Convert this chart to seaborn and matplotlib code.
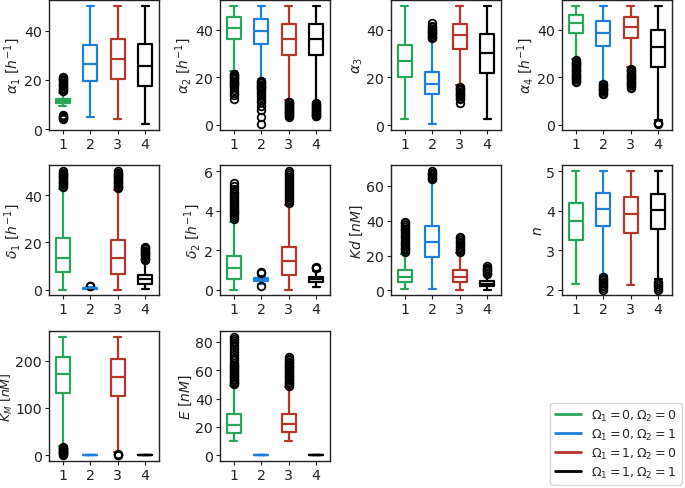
import numpy as np
import pandas as pd
import matplotlib
matplotlib.use("Agg")
import matplotlib.pyplot as plt
import seaborn as sns
from matplotlib.lines import Line2D
from matplotlib.ticker import MultipleLocator

# ---------------- data ----------------
groups = ["1", "2", "3", "4"]
colors = ["#2ba55c", "#1f7fdb", "#b5372c", "#000000"]
legend_labels = [r"$\Omega_1 = 0, \Omega_2 = 0$", r"$\Omega_1 = 0, \Omega_2 = 1$",
                 r"$\Omega_1 = 1, \Omega_2 = 0$", r"$\Omega_1 = 1, \Omega_2 = 1$"]

# five-number summaries per group: [whisker_low, q1, median, q3, whisker_high]
alpha1_box = [[9.5, 10.4, 11.25, 12.3, 14.8], [4.7, 19.6, 26.4, 34.3, 50],
              [4.0, 20.2, 28.4, 36.7, 50], [2.0, 17.6, 25.7, 34.4, 50]]
alpha1_out = [[4.2, 4.6, 5.0, 5.4, 5.8, 15.3, 15.8, 16.3, 16.8, 17.3, 17.8, 18.3, 18.8,
               19.3, 19.8, 20.3, 20.8, 21.2], [], [], []]

alpha2_box = [[22.6, 35.9, 40.7, 45.2, 50], [19.2, 34.0, 39.6, 44.3, 50],
              [10.3, 29.4, 36.1, 42.4, 50], [9.6, 29.1, 36.2, 42.4, 50]]
alpha2_out = [[21.5, 21.0, 20.5, 20.0, 19.5, 19.0, 18.5, 18.0, 17.5, 17.0, 16.5, 15.8, 14.5,
               13.4, 12.3, 10.9],
              [18.3, 17.8, 17.3, 16.8, 16.3, 15.8, 15.3, 14.8, 14.3, 13.5, 12.5, 11.5, 10.5,
               9.5, 8.0, 6.2, 3.2, 0.2],
              [9.7, 9.3, 8.9, 8.5, 8.1, 7.7, 7.3, 6.9, 6.5, 6.1, 5.7, 5.3, 4.9, 4.5, 4.1, 3.7, 3.3],
              [9.0, 8.6, 8.2, 7.8, 7.4, 7.0, 6.6, 6.2, 5.8, 5.4, 5.0, 4.6, 4.2, 3.8, 3.4]]

alpha3_box = [[2.4, 20.2, 27.0, 33.7, 50], [0.4, 13.0, 17.4, 22.3, 35.8],
              [16.8, 32.1, 37.8, 42.6, 50], [2.5, 21.9, 30.4, 38.3, 50]]
alpha3_out = [[], [36.5, 37.0, 37.5, 38.0, 38.5, 39.0, 39.5, 40.0, 40.5, 41.0, 41.5, 42.7],
              [16.0, 15.5, 15.0, 14.5, 14.0, 13.5, 13.0, 12.5, 12.0, 11.5, 11.0, 9.3], []]

alpha4_box = [[27.8, 38.5, 42.8, 46.0, 50], [17.8, 33.0, 38.6, 43.5, 50],
              [24.2, 36.6, 41.3, 45.2, 50], [1.8, 24.4, 32.8, 40.0, 50]]
alpha4_out = [[27.0, 26.5, 26.0, 25.5, 25.0, 24.5, 24.0, 23.5, 23.0, 22.5, 22.0, 21.5, 21.0,
               20.5, 20.0, 19.5, 19.0, 18.5, 18.0],
              [17.0, 16.5, 16.0, 15.5, 15.0, 14.5, 14.0, 13.5, 13.0],
              [23.4, 23.0, 22.5, 22.0, 21.5, 21.0, 20.5, 20.0, 19.5, 19.0, 18.5, 18.0, 17.5,
               17.0, 16.5, 16.0, 15.3],
              [0.8, 0.5, 0.2]]

delta1_box = [[0.0, 7.5, 13.5, 21.7, 42.5], [0.05, 0.35, 0.55, 0.75, 1.2],
              [0.0, 6.6, 13.2, 21.0, 42.0], [0.3, 2.4, 4.4, 6.3, 11.8]]
delta1_out = [[43.4, 44.0, 44.5, 45.0, 45.5, 46.0, 46.5, 47.0, 47.5, 48.0, 48.5, 49.0, 49.5, 50.0],
              [1.5, 1.7],
              [43.0, 43.5, 44.0, 44.5, 45.0, 45.5, 46.0, 46.5, 47.0, 47.5, 48.0, 48.5, 49.0,
               49.5, 50.0],
              [12.5, 13.0, 13.5, 14.0, 14.5, 15.0, 15.5, 16.0, 16.5, 17.0, 17.5, 18.0]]

delta2_box = [[0.0, 0.55, 1.1, 1.72, 3.4], [0.3, 0.44, 0.5, 0.58, 0.7],
              [0.0, 0.73, 1.43, 2.18, 4.3], [0.15, 0.40, 0.52, 0.66, 0.95]]
delta2_out = [[3.55, 3.65, 3.75, 3.85, 3.95, 4.05, 4.15, 4.25, 4.35, 4.45, 4.55, 4.65, 4.75,
               4.85, 4.95, 5.1, 5.25, 5.4],
              [0.2, 0.82, 0.87],
              [4.4, 4.5, 4.6, 4.7, 4.8, 4.9, 5.0, 5.1, 5.2, 5.3, 5.4, 5.5, 5.6, 5.7, 5.8, 5.9, 5.98],
              [1.07, 1.1, 1.13]]

kd_box = [[0.6, 4.9, 7.7, 11.5, 21.0], [0.8, 19.1, 27.7, 36.8, 63.0],
          [0.5, 4.7, 7.9, 11.5, 21.3], [0.5, 2.6, 3.8, 5.3, 9.0]]
kd_out = [[21.8, 22.5, 23.5, 24.5, 25.5, 26.5, 27.5, 28.5, 29.5, 30.5, 31.5, 32.5, 33.5,
           34.5, 35.5, 36.5, 37.5, 38.5, 39.5],
          [63.8, 64.5, 65.2, 66.0, 66.7, 67.5, 68.3],
          [22.0, 23.0, 24.0, 25.0, 26.0, 27.0, 28.0, 29.0, 30.0, 30.6],
          [9.7, 10.3, 11.0, 11.7, 12.4, 13.0, 13.8]]

n_box = [[2.13, 3.27, 3.74, 4.19, 5.0], [2.36, 3.61, 4.05, 4.46, 5.0],
         [2.12, 3.44, 3.91, 4.36, 5.0], [2.26, 3.55, 4.02, 4.43, 5.0]]
n_out = [[], [2.32, 2.28, 2.24, 2.2, 2.16, 2.12, 2.08, 2.04, 2.0], [],
         [2.2, 2.15, 2.1, 2.05, 2.0]]

km_box = [[18.5, 131.4, 171.0, 207.0, 250.0], [0, 0, 0, 0, 0],
          [6.0, 124.0, 166.0, 203.5, 250.0], [0, 0, 0, 0, 0]]
km_out = [[17.0, 15.5, 14.0, 12.5, 11.0, 9.5, 8.0, 6.5, 5.0, 3.5, 2.0, 0.5], [],
          [2.5, 1.2, 0.3], []]

e_box = [[9.9, 15.5, 21.4, 29.1, 49.0], [0, 0, 0, 0, 0],
         [9.9, 16.0, 21.8, 29.1, 48.4], [0, 0, 0, 0, 0]]
e_out = [[50, 51, 52, 53, 54, 55, 56, 57, 58, 59, 60, 61, 62, 63, 64, 65, 67, 69, 71, 73,
          75, 77, 79, 80.5, 82, 83.6], [],
         [49.2, 50, 51, 52, 53, 54, 55, 56, 57, 58, 59, 60, 61, 62, 63, 64, 65, 66, 67, 68, 69.3],
         []]

ylabels = [r"$\alpha_1\ [h^{-1}]$", r"$\alpha_2\ [h^{-1}]$", r"$\alpha_3$",
           r"$\alpha_4\ [h^{-1}]$", r"$\delta_1\ [h^{-1}]$", r"$\delta_2\ [h^{-1}]$",
           r"$Kd\ [nM]$", r"$n$", r"$K_M\ [nM]$", r"$E\ [nM]$"]
ytick_steps = [20, 20, 20, 20, 20, 2, 20, 1, 100, 20]
boxes = [alpha1_box, alpha2_box, alpha3_box, alpha4_box, delta1_box, delta2_box,
         kd_box, n_box, km_box, e_box]
outliers = [alpha1_out, alpha2_out, alpha3_out, alpha4_out, delta1_out, delta2_out,
            kd_out, n_out, km_out, e_out]


def build_frame(box, out, m=200):
    """Raw samples whose quartiles / whisker ends / outliers equal the read values."""
    rows = []
    for g, b, o in zip(groups, box, out):
        lo, q1, med, q3, hi = b
        vals = list(o) + [lo] + [q1] * m + [med] * m + [q3] * m + [hi]
        rows += [(g, v) for v in vals]
    return pd.DataFrame(rows, columns=["group", "value"])


# ---------------- plotting ----------------
sns.set_style("ticks")
plt.rcParams.update({"font.family": ["DejaVu Sans"], "font.size": 10,
                     "axes.edgecolor": "#222222", "xtick.color": "#222222",
                     "ytick.color": "#222222", "axes.linewidth": 1.0,
                     "mathtext.fontset": "dejavusans"})

fig, axes = plt.subplots(3, 4, figsize=(6.85, 4.89), dpi=100)
fig.subplots_adjust(left=0.0715, right=0.981, bottom=0.0552, top=0.998,
                    wspace=0.555, hspace=0.273)
flat = axes.ravel()

for i, ax in enumerate(flat):
    if i >= len(boxes):
        ax.set_visible(False)
        continue
    df = build_frame(boxes[i], outliers[i])
    sns.boxplot(data=df, x="group", y="value", hue="group", order=groups,
                hue_order=groups, palette=colors, fill=False, width=0.5,
                linewidth=1.6, legend=False, ax=ax,
                flierprops=dict(marker="o", markerfacecolor="none",
                                markeredgecolor="black", markersize=5.5,
                                markeredgewidth=1.3))
    ax.set_xlabel("")
    ax.set_ylabel(ylabels[i], fontsize=10, labelpad=0.5)
    ax.yaxis.set_major_locator(MultipleLocator(ytick_steps[i]))
    ax.tick_params(labelsize=10.2, length=3.0, pad=2.0)
    for s in ax.spines.values():
        s.set_visible(True)

# the K_M panel has the widest tick labels; keep its y label inside the figure
flat[8].set_ylabel(ylabels[8], fontsize=9)
flat[8].yaxis.set_label_coords(-0.31, 0.5)

handles = [Line2D([0], [0], color=c, lw=2) for c in colors]
fig.legend(handles, legend_labels, loc="lower right", bbox_to_anchor=(0.999, 0.002),
           fontsize=9, frameon=True, handlelength=2.1, handletextpad=0.8,
           labelspacing=0.3, borderpad=0.4, borderaxespad=0.2)

fig.savefig("out.png", dpi=100)
